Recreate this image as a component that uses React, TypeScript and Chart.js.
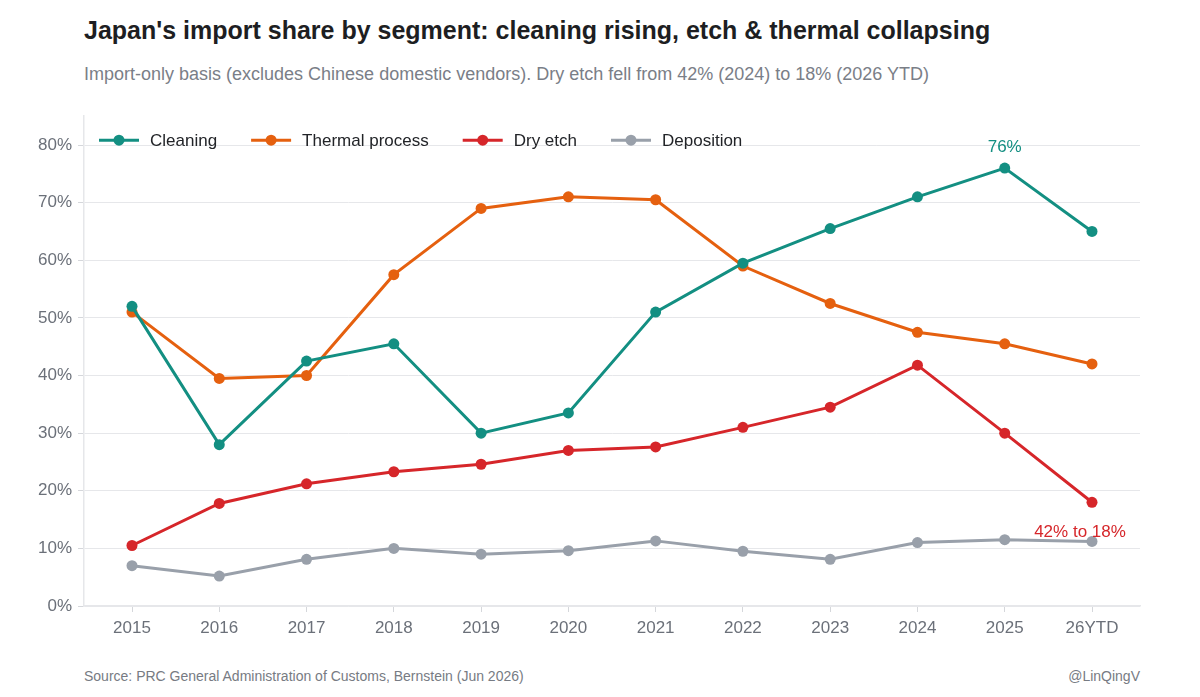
import { Chart, registerables } from 'chart.js'
import type { Plugin } from 'chart.js'
import { useEffect, useRef } from 'react'

Chart.register(...registerables)

const YEARS = ['2015', '2016', '2017', '2018', '2019', '2020', '2021', '2022', '2023', '2024', '2025', '26YTD']

const CLEANING = [52, 28, 42.5, 45.5, 30, 33.5, 51, 59.5, 65.5, 71, 76, 65]
const THERMAL = [51, 39.5, 40, 57.5, 69, 71, 70.5, 59, 52.5, 47.5, 45.5, 42]
const DRY_ETCH = [10.5, 17.8, 21.2, 23.3, 24.6, 27, 27.6, 31, 34.5, 41.8, 30, 18]
const DEPOSITION = [7, 5.2, 8.1, 10, 9, 9.6, 11.3, 9.5, 8.1, 11, 11.5, 11.2]

const SERIES = [
  { label: 'Cleaning', data: CLEANING, color: '#138f82' },
  { label: 'Thermal process', data: THERMAL, color: '#e5600f' },
  { label: 'Dry etch', data: DRY_ETCH, color: '#d6262a' },
  { label: 'Deposition', data: DEPOSITION, color: '#99a0aa' },
]

const FONT = '"Liberation Sans", Arial, Helvetica, sans-serif'
const GRID = '#e6e7ea'
const TICK_COLOR = '#6b7079'

// in-plot legend, drawn over the top-left of the chart area
const legendPlugin: Plugin<'line'> = {
  id: 'inlineLegend',
  afterDatasetsDraw(chart) {
    const { ctx, chartArea } = chart
    const y = chartArea.top + 24
    let x = chartArea.left + 15
    ctx.save()
    ctx.font = `17px ${FONT}`
    ctx.textBaseline = 'middle'
    ctx.textAlign = 'left'
    SERIES.forEach((s) => {
      ctx.strokeStyle = s.color
      ctx.lineWidth = 3
      ctx.beginPath()
      ctx.moveTo(x, y)
      ctx.lineTo(x + 40, y)
      ctx.stroke()
      ctx.fillStyle = s.color
      ctx.beginPath()
      ctx.arc(x + 20, y, 5.5, 0, Math.PI * 2)
      ctx.fill()
      ctx.fillStyle = '#222428'
      ctx.fillText(s.label, x + 51, y + 1)
      x += 51 + ctx.measureText(s.label).width + 34
    })
    ctx.restore()
  },
}

// value call-outs
const annotationPlugin: Plugin<'line'> = {
  id: 'callouts',
  afterDatasetsDraw(chart) {
    const { ctx, scales } = chart
    const xs = scales.x
    const ys = scales.y
    ctx.save()
    ctx.font = `17px ${FONT}`
    ctx.textAlign = 'center'
    ctx.textBaseline = 'middle'
    ctx.fillStyle = SERIES[0].color
    ctx.fillText('76%', xs.getPixelForValue(10), ys.getPixelForValue(CLEANING[10]) - 21)
    ctx.fillStyle = SERIES[2].color
    ctx.fillText('42% to 18%', xs.getPixelForValue(11) - 12, ys.getPixelForValue(12.8))
    ctx.restore()
  },
}

function ImportShareChart() {
  const canvasRef = useRef<HTMLCanvasElement>(null)

  useEffect(() => {
    const canvas = canvasRef.current
    if (!canvas) return

    const chart = new Chart(canvas, {
      type: 'line',
      data: {
        datasets: SERIES.map((s) => ({
          label: s.label,
          data: s.data.map((v, i) => ({ x: i, y: v })),
          borderColor: s.color,
          backgroundColor: s.color,
          borderWidth: 3,
          pointRadius: 5.5,
          pointBorderWidth: 0,
          tension: 0,
        })),
      },
      options: {
        animation: false,
        responsive: true,
        maintainAspectRatio: false,
        events: [],
        layout: { padding: { top: 13, right: 60, left: 0, bottom: 0 } },
        plugins: {
          legend: { display: false },
          tooltip: { enabled: false },
        },
        scales: {
          x: {
            type: 'linear',
            min: -0.55,
            max: 11.55,
            afterBuildTicks: (scale) => {
              scale.ticks = YEARS.map((_, i) => ({ value: i }))
            },
            afterFit: (scale) => {
              scale.height = 34
            },
            grid: { drawOnChartArea: false, drawTicks: true, tickLength: 6, color: '#d5d7db' },
            border: { display: true, color: GRID, width: 1.5 },
            ticks: {
              color: TICK_COLOR,
              font: { family: FONT, size: 17 },
              padding: 6,
              maxRotation: 0,
              autoSkip: false,
              callback: (v) => YEARS[Number(v)] ?? '',
            },
          },
          y: {
            min: 0,
            max: 85,
            afterFit: (scale) => {
              scale.width = 84
            },
            grid: { color: GRID, lineWidth: 1, tickLength: 6, tickColor: '#d5d7db' },
            border: { display: true, color: GRID, width: 1.5 },
            ticks: {
              stepSize: 10,
              includeBounds: false,
              color: TICK_COLOR,
              font: { family: FONT, size: 17 },
              padding: 6,
              callback: (v) => `${v}%`,
            },
          },
        },
      },
      plugins: [legendPlugin, annotationPlugin],
    })

    return () => chart.destroy()
  }, [])

  return (
    <div style={{ position: 'absolute', left: 0, top: 100, width: 1200, height: 540 }}>
      <canvas ref={canvasRef} />
    </div>
  )
}

export default function App() {
  return (
    <div
      style={{
        position: 'absolute',
        left: 0,
        top: 0,
        width: 1200,
        height: 697,
        background: '#ffffff',
        fontFamily: FONT,
        overflow: 'hidden',
      }}
    >
      <div
        style={{
          position: 'absolute',
          left: 84,
          top: 16,
          fontSize: 25,
          fontWeight: 700,
          color: '#1d1e22',
          whiteSpace: 'nowrap',
        }}
      >
        Japan's import share by segment: cleaning rising, etch &amp; thermal collapsing
      </div>
      <div
        style={{
          position: 'absolute',
          left: 84,
          top: 64,
          fontSize: 18,
          color: '#7a7e87',
          whiteSpace: 'nowrap',
        }}
      >
        Import-only basis (excludes Chinese domestic vendors). Dry etch fell from 42% (2024) to 18% (2026 YTD)
      </div>
      <ImportShareChart />
      <div
        style={{
          position: 'absolute',
          left: 84,
          top: 668,
          fontSize: 14,
          color: '#777b83',
          whiteSpace: 'nowrap',
        }}
      >
        Source: PRC General Administration of Customs, Bernstein (Jun 2026)
      </div>
      <div
        style={{
          position: 'absolute',
          right: 60,
          top: 668,
          fontSize: 14,
          color: '#777b83',
          whiteSpace: 'nowrap',
        }}
      >
        @LinQingV
      </div>
    </div>
  )
}
